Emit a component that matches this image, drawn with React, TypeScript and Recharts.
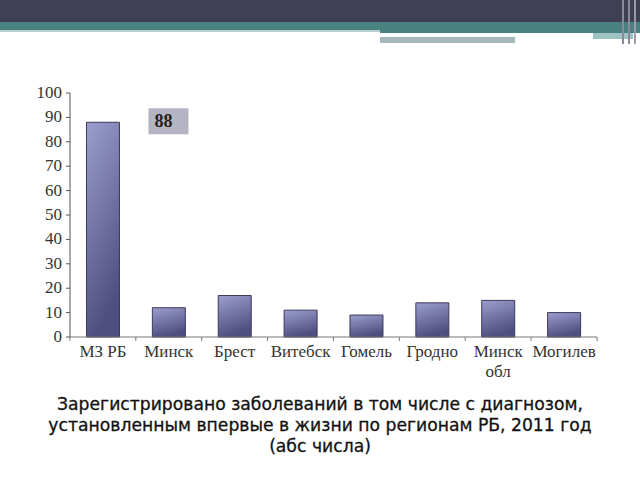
import { BarChart, Bar, XAxis, YAxis, LabelList } from 'recharts';

const regions = ['МЗ РБ', 'Минск', 'Брест', 'Витебск', 'Гомель', 'Гродно', 'Минск обл', 'Могилев'];
const cases = [88, 12, 17, 11, 9, 14, 15, 10];
const yTicks = [0, 10, 20, 30, 40, 50, 60, 70, 80, 90, 100];

const data = regions.map((region, i) => ({ region, cases: cases[i] }));

const serif = '"Liberation Serif", "DejaVu Serif", serif';

function RegionTick(props: any) {
  const { x, y, payload, index } = props;
  const half = 33;
  const words = payload.value === 'Минск обл' ? ['Минск', 'обл'] : [payload.value];
  return (
    <g>
      <line x1={x - half} y1={y - 8} x2={x - half} y2={y - 4} stroke="#777" />
      {index === regions.length - 1 && (
        <line x1={x + half} y1={y - 8} x2={x + half} y2={y - 4} stroke="#777" />
      )}
      {words.map((w, i) => (
        <text key={w} x={x} y={y + 12 + i * 20} textAnchor="middle" fontFamily={serif} fontSize={17} fill="#333">
          {w}
        </text>
      ))}
    </g>
  );
}

function CountTick(props: any) {
  const { x, y, payload } = props;
  return (
    <text x={x - 2} y={y + 5} textAnchor="end" fontFamily={serif} fontSize={17} fill="#333">
      {payload.value}
    </text>
  );
}

function ValueBox(props: any) {
  const { x, y, width, index, value } = props;
  if (index !== 0) return null;
  const bx = x + width + 29;
  const by = y - 14;
  return (
    <g>
      <rect x={bx} y={by} width={40} height={26} fill="#b4b4c2" />
      <text x={bx + 6} y={by + 19} fontFamily={serif} fontWeight="bold" fontSize={18} fill="#222">
        {value}
      </text>
    </g>
  );
}

export default function App() {
  return (
    <div style={{ position: 'absolute', left: 0, top: 0, width: 640, height: 480, background: '#fff', overflow: 'hidden' }}>
      {/* slide header */}
      <div style={{ position: 'absolute', left: 0, top: 0, width: 640, height: 22, background: '#3f3f55' }} />
      <div style={{ position: 'absolute', left: 0, top: 22, width: 640, height: 8, background: '#4a8282' }} />
      <div style={{ position: 'absolute', left: 0, top: 30, width: 380, height: 2, background: '#b8d0d0' }} />
      <div style={{ position: 'absolute', left: 380, top: 30, width: 260, height: 3, background: '#4a8282' }} />
      <div style={{ position: 'absolute', left: 593, top: 33, width: 40, height: 6, background: '#9cc2c4' }} />
      <div style={{ position: 'absolute', left: 380, top: 37, width: 135, height: 6, background: '#a6b8bc' }} />
      <div style={{ position: 'absolute', left: 622, top: 0, width: 2, height: 44, background: '#8a8a9a' }} />
      <div style={{ position: 'absolute', left: 628, top: 0, width: 2, height: 44, background: '#8a8a9a' }} />
      <div style={{ position: 'absolute', left: 634, top: 0, width: 2, height: 44, background: '#9a9aaa' }} />

      <div style={{ position: 'absolute', left: 0, top: 0 }}>
        <BarChart width={640} height={480} data={data} margin={{ top: 93, right: 43, bottom: 83, left: 30 }} barCategoryGap="25%">
          <defs>
            <linearGradient id="barFill" x1="0" y1="0" x2="0.3" y2="1">
              <stop offset="0%" stopColor="#9d9ed0" />
              <stop offset="100%" stopColor="#4e4e80" />
            </linearGradient>
          </defs>
          <XAxis
            dataKey="region"
            interval={0}
            tickLine={false}
            tick={<RegionTick />}
            axisLine={{ stroke: '#777' }}
            height={60}
          />
          <YAxis
            domain={[0, 100]}
            ticks={yTicks}
            interval={0}
            width={40}
            tickSize={4}
            tickLine={{ stroke: '#555' }}
            axisLine={{ stroke: '#555' }}
            tick={<CountTick />}
          />
          <Bar dataKey="cases" fill="url(#barFill)" stroke="#3a3a5a" strokeWidth={1} isAnimationActive={false}>
            <LabelList dataKey="cases" content={<ValueBox />} />
          </Bar>
        </BarChart>
      </div>

      <div
        style={{
          position: 'absolute',
          left: 0,
          top: 394,
          width: 640,
          textAlign: 'center',
          fontFamily: '"DejaVu Sans", Verdana, sans-serif',
          fontSize: 17.2,
          lineHeight: '21px',
          color: '#111',
          WebkitTextStroke: '0.3px #111',
        }}
      >
        Зарегистрировано заболеваний в том числе с диагнозом,
        <br />
        установленным впервые в жизни по регионам РБ, 2011 год
        <br />
        (абс числа)
      </div>
    </div>
  );
}
